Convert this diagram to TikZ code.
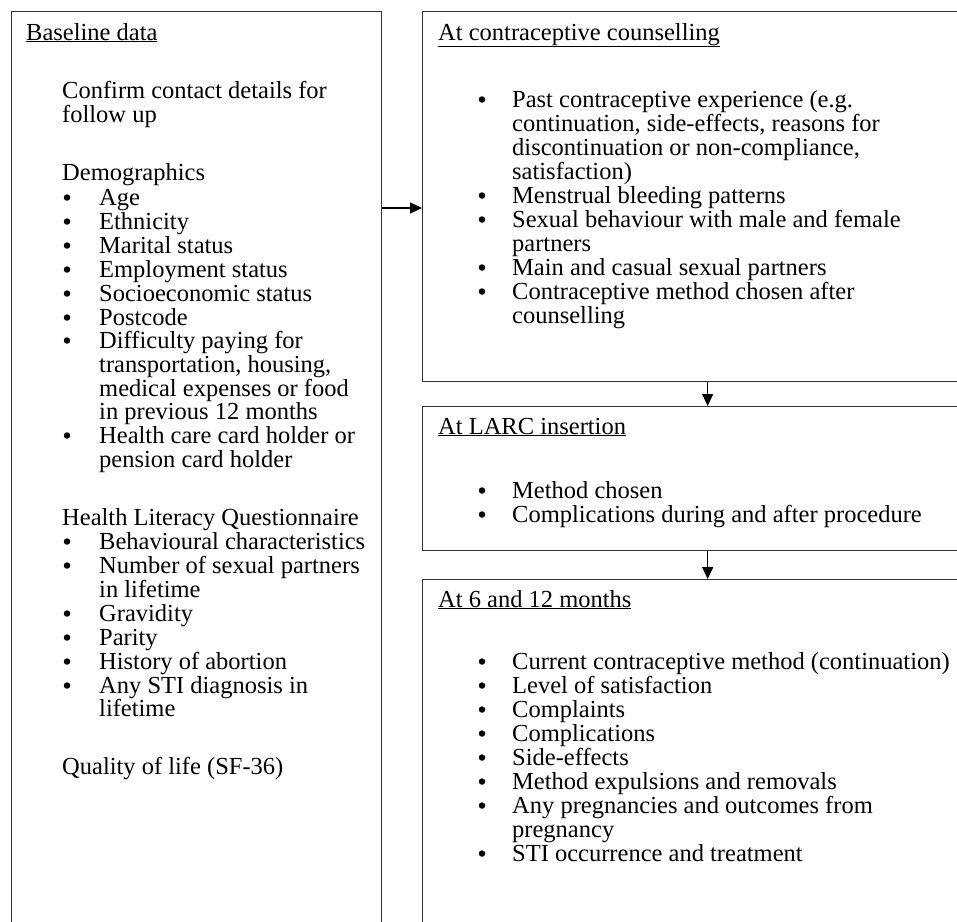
\documentclass[tikz,border=0pt]{standalone}
\usepackage{fontspec}
\setmainfont{Liberation Serif}
\usetikzlibrary{arrows.meta}
\begin{document}
\begin{tikzpicture}[x=1pt,y=-1pt,
  box/.style={draw=black!80, line width=1.3pt, anchor=north west, inner sep=0pt, rectangle},
  txt/.style={anchor=base west, inner sep=0pt, font=\fontsize{24.5}{24}\selectfont},
  bul/.style={circle, fill=black, inner sep=0pt, minimum size=6.5pt},
  arr/.style={draw=black, line width=1.3pt, -{Triangle[length=12pt,width=11pt]}}]
\useasboundingbox (0,0) rectangle (957,921);
% boxes
\node[box, minimum width=370.5pt, minimum height=940pt] (L) at (10.5,11) {};
\node[box, minimum width=570pt, minimum height=370pt] (B1) at (422,11) {};
\node[box, minimum width=570pt, minimum height=144pt] (B2) at (422,406) {};
\node[box, minimum width=570pt, minimum height=400pt] (B3) at (422,579) {};
% left box text
\node[txt] (lh) at (26,40) {\underline{Baseline data}};
\foreach \y/\t [count=\i] in {98/Confirm contact details for, 122/follow up, 180/Demographics,
   525/Health Literacy Questionnaire, 774/Quality of life (SF-36)}
  \node[txt] (lp\i) at (62,\y) {\t};
\foreach \y/\t [count=\i] in {205/Age, 229/Ethnicity, 253/Marital status, 277/Employment status,
   301/Socioeconomic status, 325/Postcode, 348/Difficulty paying for, 443/Health care card holder or,
   549/Behavioural characteristics, 573/Number of sexual partners, 621/Gravidity, 645/Parity,
   669/History of abortion, 693/Any STI diagnosis in}
  {\node[bul] (lb\i) at (67,\y-7.5) {};
   \node[txt] (lt\i) at (99,\y) {\t};}
\foreach \y/\t [count=\i] in {372/{transportation, housing,}, 396/medical expenses or food,
   419/in previous 12 months, 467/pension card holder, 597/in lifetime, 716/lifetime}
  \node[txt] (lc\i) at (99,\y) {\t};
% right box 1
\node[txt] (h1) at (438,40) {\underline{At contraceptive counselling}};
\foreach \y/\t [count=\i] in {107/Past contraceptive experience (e.g., 203/Menstrual bleeding patterns,
   227/Sexual behaviour with male and female, 275/Main and casual sexual partners,
   299/Contraceptive method chosen after}
  {\node[bul] (ab\i) at (482,\y-7.5) {};
   \node[txt] (at\i) at (512,\y) {\t};}
\foreach \y/\t [count=\i] in {131/{continuation, side-effects, reasons for}, 155/{discontinuation or non-compliance,},
   179/satisfaction), 251/partners, 323/counselling}
  \node[txt] (ac\i) at (512,\y) {\t};
% right box 2
\node[txt] (h2) at (438,434) {\underline{At LARC insertion}};
\foreach \y/\t [count=\i] in {498/Method chosen, 522/Complications during and after procedure}
  {\node[bul] (bb\i) at (482,\y-7.5) {};
   \node[txt] (bt\i) at (512,\y) {\t};}
% right box 3
\node[txt] (h3) at (438,607) {\underline{At 6 and 12 months}};
\foreach \y/\t [count=\i] in {669/Current contraceptive method (continuation), 693/Level of satisfaction,
   717/Complaints, 741/Complications, 765/Side-effects, 789/Method expulsions and removals,
   813/Any pregnancies and outcomes from, 861/STI occurrence and treatment}
  {\node[bul] (cb\i) at (482,\y-7.5) {};
   \node[txt] (ct\i) at (512,\y) {\t};}
\node[txt] (cc1) at (512,837) {pregnancy};
% connectors
\path (L.north east) ++(0,197) coordinate (a0);
\draw[arr] (a0) -- (a0 -| B1.west);
\draw[arr] (B1.south) -- (B2.north);
\draw[arr] (B2.south) -- (B3.north);
\end{tikzpicture}
\end{document}
